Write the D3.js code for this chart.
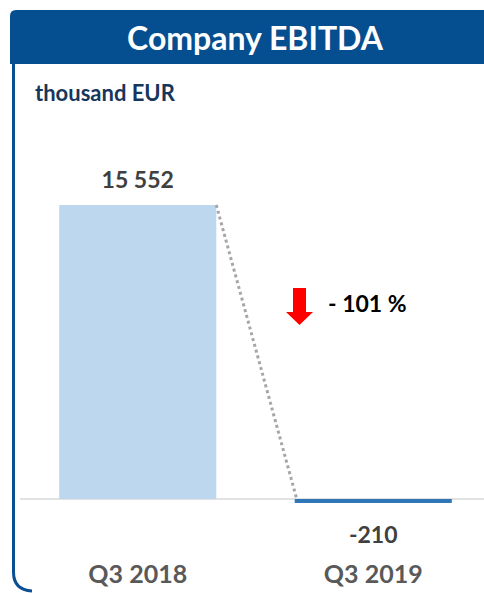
<!DOCTYPE html>
<html>
<head>
<meta charset="utf-8">
<script src="https://cdn.jsdelivr.net/npm/d3@7"></script>
<style>
  body { margin: 0; background: #fff; }
</style>
</head>
<body>
<div id="chart"></div>
<script>
// data
const categories = ["Q3 2018", "Q3 2019"];
const values = [15552, -210];
const valueLabels = ["15 552", "-210"];
const changeLabel = "- 101 %";

const width = 484, height = 593;
const font = "Lato, 'Open Sans', sans-serif";

const svg = d3.select('#chart').append('svg')
    .attr('width', width)
    .attr('height', height);

// frame: left border with rounded bottom corner
svg.append('path')
    .attr('d', 'M13.5,60 L13.5,572 Q13.5,590 32,591')
    .attr('fill', 'none')
    .attr('stroke', '#0B4F93')
    .attr('stroke-width', 3);

// header banner
svg.append('path')
    .attr('d', `M10,64 L10,16 Q10,10 16,10 L${width},10 L${width},64 Z`)
    .attr('fill', '#054F91');

svg.append('text')
    .attr('x', 255)
    .attr('y', 50)
    .attr('text-anchor', 'middle')
    .attr('font-family', font)
    .attr('font-weight', 'bold')
    .attr('font-size', '32px')
    .attr('fill', '#fff')
    .text('Company EBITDA');

svg.append('text')
    .attr('x', 35)
    .attr('y', 101)
    .attr('font-family', font)
    .attr('font-weight', 'bold')
    .attr('font-size', '22px')
    .attr('fill', '#16365C')
    .text('thousand EUR');

// scales
const x = d3.scaleBand()
    .domain(categories)
    .range([20, 491])
    .paddingInner(0.333)
    .paddingOuter(0.1665);

const y = d3.scaleLinear()
    .domain([0, 15552])
    .range([499, 205]);

// zero line
svg.append('line')
    .attr('x1', 20).attr('x2', width)
    .attr('y1', y(0)).attr('y2', y(0))
    .attr('stroke', '#D9D9D9')
    .attr('stroke-width', 1.5);

// bars
svg.selectAll('rect.bar')
    .data(values)
    .join('rect')
      .attr('class', 'bar')
      .attr('x', (d, i) => x(categories[i]))
      .attr('width', x.bandwidth())
      .attr('y', d => y(Math.max(d, 0)))
      .attr('height', d => Math.abs(y(d) - y(0)))
      .attr('fill', (d, i) => i === 0 ? '#BDD7EE' : '#2E75B6');

// dotted connector from top of first bar to start of second
svg.append('line')
    .attr('x1', x(categories[0]) + x.bandwidth())
    .attr('y1', y(values[0]))
    .attr('x2', x(categories[1]) + 2)
    .attr('y2', y(0))
    .attr('stroke', '#A6A6A6')
    .attr('stroke-width', 3)
    .attr('stroke-dasharray', '3,3');

// value labels
svg.selectAll('text.val')
    .data(values)
    .join('text')
      .attr('class', 'val')
      .attr('x', (d, i) => x(categories[i]) + x.bandwidth() / 2)
      .attr('y', d => d >= 0 ? y(d) - 17 : y(d) + 40)
      .attr('text-anchor', 'middle')
      .attr('font-family', font)
      .attr('font-weight', 'bold')
      .attr('font-size', '23px')
      .attr('fill', '#404040')
      .text((d, i) => valueLabels[i]);

// category labels
svg.selectAll('text.cat')
    .data(categories)
    .join('text')
      .attr('class', 'cat')
      .attr('x', d => x(d) + x.bandwidth() / 2)
      .attr('y', 583)
      .attr('text-anchor', 'middle')
      .attr('font-family', font)
      .attr('font-weight', 'bold')
      .attr('font-size', '25px')
      .attr('fill', '#595959')
      .text(d => d);

// red down arrow + change label
svg.append('path')
    .attr('d', 'M293,288 L306,288 L306,312 L313,312 L299.5,325 L286,312 L293,312 Z')
    .attr('fill', '#FF0000');

svg.append('text')
    .attr('x', 328)
    .attr('y', 312)
    .attr('font-family', font)
    .attr('font-weight', 'bold')
    .attr('font-size', '23px')
    .attr('fill', '#000')
    .text(changeLabel);
</script>
</body>
</html>
